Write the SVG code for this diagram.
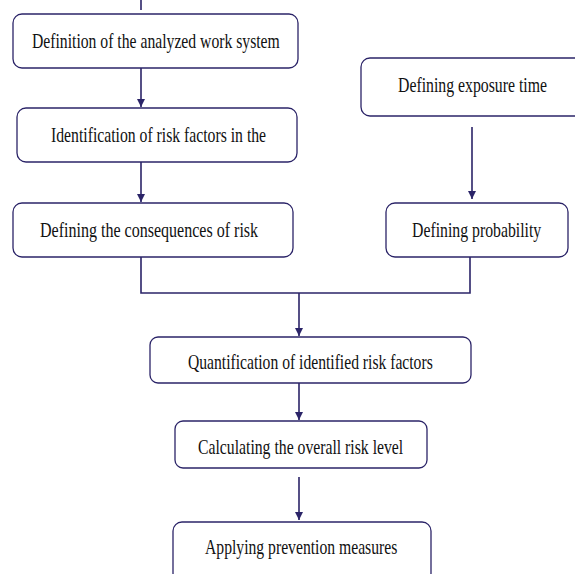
<svg xmlns="http://www.w3.org/2000/svg" width="575" height="574" viewBox="0 0 575 574">
<defs>
<style>
.box{fill:#fff;stroke:#2b2468;stroke-width:1.3}
.t{font-family:'Liberation Serif','DejaVu Serif',serif;font-size:22px;fill:#111}
.c{fill:none;stroke:#2b2468;stroke-width:1.6}
</style>
<marker id="ah" viewBox="0 0 10 10" refX="10" refY="5" markerWidth="8" markerHeight="8" markerUnits="userSpaceOnUse" orient="auto">
<path d="M0,0 L10,5 L0,10 z" fill="#2b2468"/>
</marker>
</defs>
<rect width="575" height="574" fill="#fff"/>
<g id="connectors">
<line class="c" x1="141" y1="0" x2="141" y2="10"/>
<line class="c" x1="141" y1="68" x2="141" y2="107" marker-end="url(#ah)"/>
<line class="c" x1="141" y1="162" x2="141" y2="202" marker-end="url(#ah)"/>
<line class="c" x1="472" y1="127" x2="472" y2="199" marker-end="url(#ah)"/>
<polyline class="c" points="141,257 141,293 470,293 470,257"/>
<line class="c" x1="299" y1="293" x2="299" y2="336" marker-end="url(#ah)"/>
<line class="c" x1="299" y1="383" x2="299" y2="420" marker-end="url(#ah)"/>
<line class="c" x1="299" y1="477" x2="299" y2="520" marker-end="url(#ah)"/>
</g>
<g id="n1"><rect class="box" x="13" y="14" width="285" height="54" rx="9"/><text class="t" transform="translate(32,48) scale(0.76,1)" textLength="326" lengthAdjust="spacingAndGlyphs">Definition of the analyzed work system</text></g>
<g id="n2"><rect class="box" x="17" y="108" width="280" height="54" rx="9"/><text class="t" transform="translate(51,142) scale(0.76,1)" textLength="283" lengthAdjust="spacingAndGlyphs">Identification of risk factors in the</text></g>
<g id="n3"><rect class="box" x="13" y="203" width="280" height="54" rx="9"/><text class="t" transform="translate(40,237) scale(0.76,1)" textLength="287" lengthAdjust="spacingAndGlyphs">Defining the consequences of risk</text></g>
<g id="n4"><rect class="box" x="361" y="58" width="224" height="58" rx="9"/><text class="t" transform="translate(398,92) scale(0.76,1)" textLength="196" lengthAdjust="spacingAndGlyphs">Defining exposure time</text></g>
<g id="n5"><rect class="box" x="386" y="203" width="182" height="54" rx="9"/><text class="t" transform="translate(412,237) scale(0.76,1)" textLength="170" lengthAdjust="spacingAndGlyphs">Defining probability</text></g>
<g id="n6"><rect class="box" x="150" y="337" width="321" height="46" rx="8"/><text class="t" transform="translate(188,369) scale(0.76,1)" textLength="322" lengthAdjust="spacingAndGlyphs">Quantification of identified risk factors</text></g>
<g id="n7"><rect class="box" x="175" y="421" width="252" height="47" rx="8"/><text class="t" transform="translate(198,454) scale(0.76,1)" textLength="270" lengthAdjust="spacingAndGlyphs">Calculating the overall risk level</text></g>
<g id="n8"><rect class="box" x="173" y="522" width="258" height="60" rx="9"/><text class="t" transform="translate(205,554) scale(0.76,1)" textLength="253" lengthAdjust="spacingAndGlyphs">Applying prevention measures</text></g>
</svg>
